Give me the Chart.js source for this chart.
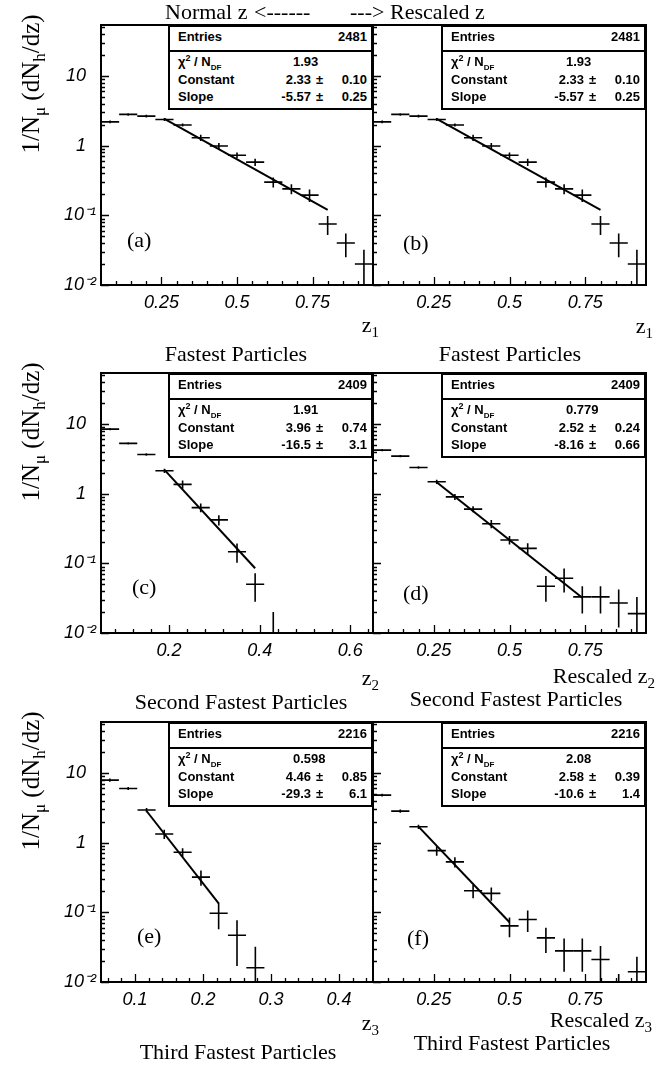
<!DOCTYPE html>
<html lang="en">
<head>
<meta charset="UTF-8">
<title>Normal z / Rescaled z</title>
<script src="https://cdn.jsdelivr.net/npm/chart.js"></script>
<style>
  body { margin: 0; background: #fff; }
  #page { position: relative; width: 663px; height: 1066px; background: #fff; overflow: hidden;
          font-family: "Liberation Serif", "Times New Roman", serif; color: #000; }
  canvas { position: absolute; }
  .txt { position: absolute; font-size: 22px; line-height: 22px; white-space: nowrap; }
  .txt sub { font-size: 15px; vertical-align: -5px; line-height: 0; }
  .ytitle { position: absolute; font-size: 25px; line-height: 25px; white-space: nowrap;
            transform: translate(-50%, -50%) rotate(-90deg); }
  .ytitle sub { font-size: 17px; vertical-align: -6px; line-height: 0; }
  .stats { position: absolute; box-sizing: border-box; width: 205px; height: 85px;
           border: 2px solid #000; background: #fff;
           font-family: "Liberation Sans", Arial, sans-serif; font-weight: bold; font-size: 13px; }
  .stats span { position: absolute; line-height: 16px; white-space: nowrap; }
  .stats .sep { position: absolute; left: 0; right: 0; top: 23px; height: 2px; background: #000; }
  .stats sup { font-size: 9px; line-height: 0; }
  .stats sub { font-size: 8px; line-height: 0; }
</style>
</head>
<body>
<div id="page"></div>

<script>
// bin centres
const zFast   = [0.08, 0.14, 0.20, 0.26, 0.32, 0.38, 0.44, 0.50, 0.56, 0.62, 0.68, 0.74, 0.80, 0.86, 0.92];
const zSecond = [0.07, 0.11, 0.15, 0.19, 0.23, 0.27, 0.31, 0.35, 0.39, 0.43];
const zThird  = [0.063, 0.090, 0.117, 0.143, 0.170, 0.197, 0.223, 0.250, 0.277];
const halfFast = 0.03, halfSecond = 0.02, halfThird = 0.0133;

// 1/N dN/dz values and errors
const valA = [2.20, 2.81, 2.66, 2.38, 1.98, 1.30, 0.99, 0.73, 0.58, 0.30, 0.24, 0.195, 0.075, 0.040, 0.020];
const errA = [0.10, 0.12, 0.12, 0.11, 0.10, 0.13, 0.10, 0.07, 0.07, 0.05, 0.04, 0.04, 0.023, 0.015, 0.012];
const valB = [2.20, 2.81, 2.66, 2.38, 1.98, 1.30, 0.99, 0.73, 0.58, 0.30, 0.24, 0.195, 0.075, 0.040, 0.020];
const errB = [0.10, 0.12, 0.12, 0.11, 0.10, 0.13, 0.10, 0.07, 0.07, 0.05, 0.04, 0.04, 0.023, 0.015, 0.012];
const valC = [8.45, 5.27, 3.66, 2.13, 1.36, 0.63, 0.42, 0.147, 0.050, 0.0095];
const errC = [0.30, 0.20, 0.15, 0.15, 0.18, 0.09, 0.07, 0.045, 0.022, 0.0105];
const valD = [4.22, 3.46, 2.38, 1.48, 0.90, 0.60, 0.37, 0.216, 0.164, 0.047, 0.061, 0.033, 0.033, 0.027, 0.019];
const errD = [0.15, 0.12, 0.10, 0.10, 0.09, 0.06, 0.05, 0.03, 0.03, 0.019, 0.023, 0.014, 0.014, 0.015, 0.014];
const valE = [7.91, 6.00, 2.94, 1.33, 0.73, 0.32, 0.097, 0.047, 0.016];
const errE = [0.40, 0.30, 0.20, 0.20, 0.10, 0.08, 0.04, 0.03, 0.016];
const valF = [4.82, 2.84, 1.69, 0.77, 0.53, 0.204, 0.187, 0.064, 0.079, 0.043, 0.028, 0.028, 0.021, 0.006, 0.014];
const errF = [0.20, 0.15, 0.12, 0.12, 0.09, 0.045, 0.04, 0.02, 0.027, 0.017, 0.014, 0.014, 0.012, 0.007, 0.009];

// fitted exponential, end points of the drawn line
const fitZA = [0.26, 0.80],  fitYA = [2.42, 0.12];
const fitZB = [0.26, 0.80],  fitYB = [2.42, 0.12];
const fitZC = [0.19, 0.39],  fitYC = [2.20, 0.085];
const fitZD = [0.26, 0.74],  fitYD = [1.46, 0.032];
const fitZE = [0.117, 0.223], fitYE = [2.85, 0.135];
const fitZF = [0.20, 0.50],  fitYF = [1.70, 0.072];

// stats boxes
const entries  = ['2481', '2481', '2409', '2409', '2216', '2216'];
const chi2     = ['1.93', '1.93', '1.91', '0.779', '0.598', '2.08'];
const constVal = ['2.33', '2.33', '3.96', '2.52', '4.46', '2.58'];
const constErr = ['0.10', '0.10', '0.74', '0.24', '0.85', '0.39'];
const slopeVal = ['-5.57', '-5.57', '-16.5', '-8.16', '-29.3', '-10.6'];
const slopeErr = ['0.25', '0.25', '3.1', '0.66', '6.1', '1.4'];

// axis labels
const xLabelsFast = [0.25, 0.5, 0.75];
const xLabelsSecond = [0.2, 0.4, 0.6];
const xLabelsThird = [0.1, 0.2, 0.3, 0.4];
const yLabels = { '1': '10\u2007', '0': '1\u2007', '-1': '10\u207B\u00B9', '-2': '10\u207B\u00B2' };
const panelTags = ['(a)', '(b)', '(c)', '(d)', '(e)', '(f)'];
const xTitles = ['z<sub>1</sub>', 'z<sub>1</sub>', 'z<sub>2</sub>', 'Rescaled z<sub>2</sub>', 'z<sub>3</sub>', 'Rescaled z<sub>3</sub>'];
const subTitles = ['Fastest Particles', 'Fastest Particles', 'Second Fastest Particles',
                   'Second Fastest Particles', 'Third Fastest Particles', 'Third Fastest Particles'];

const Y_MIN = 0.01, Y_MAX = 54;

function makeTicks(start, step, end) {
  const out = [];
  for (let v = start; v <= end + 1e-9; v += step) out.push(Math.round(v * 1e4) / 1e4);
  return out;
}
const yTickVals = [];
for (let e = -2; e <= 1; e++) {
  for (let m = 1; m <= 9; m++) {
    const v = +(m * Math.pow(10, e)).toPrecision(6);
    if (v <= Y_MAX) yTickVals.push(v);
  }
}

// layout
const colLeft = [101, 373], colWidth = [272, 273];
const rowTop = [25, 373, 722], PLOT_H = 260;
const AXIS_W = 75, AXIS_H = 40, PAD_T = 10, PAD_R = 4;

const panels = [
  { z: zFast, v: valA, e: errA, half: halfFast, fz: fitZA, fy: fitYA, xr: [0.05, 0.95], xt: makeTicks(0.1, 0.05, 0.9), xl: xLabelsFast },
  { z: zFast, v: valB, e: errB, half: halfFast, fz: fitZB, fy: fitYB, xr: [0.05, 0.95], xt: makeTicks(0.1, 0.05, 0.9), xl: xLabelsFast },
  { z: zSecond, v: valC, e: errC, half: halfSecond, fz: fitZC, fy: fitYC, xr: [0.05, 0.65], xt: makeTicks(0.08, 0.04, 0.64), xl: xLabelsSecond },
  { z: zFast, v: valD, e: errD, half: halfFast, fz: fitZD, fy: fitYD, xr: [0.05, 0.95], xt: makeTicks(0.1, 0.05, 0.9), xl: xLabelsFast },
  { z: zThird, v: valE, e: errE, half: halfThird, fz: fitZE, fy: fitYE, xr: [0.05, 0.45], xt: makeTicks(0.06, 0.02, 0.44), xl: xLabelsThird },
  { z: zFast, v: valF, e: errF, half: halfFast, fz: fitZF, fy: fitYF, xr: [0.05, 0.95], xt: makeTicks(0.1, 0.05, 0.9), xl: xLabelsFast }
];

const isLabel = (list, v) => list.some(l => Math.abs(l - v) < 1e-6);
const isDecade = v => { const l = Math.log10(v); return Math.abs(l - Math.round(l)) < 1e-6; };
const noPad = s => { s.paddingTop = 0; s.paddingBottom = 0; s.paddingLeft = 0; s.paddingRight = 0; };

// error bars, frame and inward ticks
const paw = {
  id: 'paw',
  afterDatasetsDraw(chart) {
    const { ctx, chartArea: a, scales: { x, y } } = chart;
    ctx.save();
    ctx.beginPath();
    ctx.rect(a.left, a.top, a.right - a.left, a.bottom - a.top);
    ctx.clip();
    ctx.strokeStyle = '#000';
    ctx.lineWidth = 1.6;
    chart.data.datasets.forEach(ds => {
      if (!ds.errors) return;
      ds.data.forEach((p, i) => {
        const px = x.getPixelForValue(p.x);
        const py = y.getPixelForValue(p.y);
        const lo = p.y - ds.errors[i];
        const yLo = lo > 0 ? y.getPixelForValue(lo) : a.bottom + 10;
        const yHi = y.getPixelForValue(p.y + ds.errors[i]);
        ctx.beginPath();
        ctx.moveTo(x.getPixelForValue(p.x - ds.halfWidth), py);
        ctx.lineTo(x.getPixelForValue(p.x + ds.halfWidth), py);
        ctx.moveTo(px, yLo);
        ctx.lineTo(px, yHi);
        ctx.stroke();
      });
    });
    ctx.restore();

    ctx.save();
    ctx.strokeStyle = '#000';
    ctx.lineWidth = 1.3;
    ctx.beginPath();
    y.ticks.forEach(t => {
      const py = Math.round(y.getPixelForValue(t.value)) + 0.5;
      ctx.moveTo(a.left, py);
      ctx.lineTo(a.left + (isDecade(t.value) ? 8 : 4), py);
    });
    const labels = chart.options.scales.x.xLabels;
    x.ticks.forEach(t => {
      const px = Math.round(x.getPixelForValue(t.value)) + 0.5;
      ctx.moveTo(px, a.bottom);
      ctx.lineTo(px, a.bottom - (isLabel(labels, t.value) ? 8 : 4));
    });
    ctx.stroke();
    ctx.lineWidth = 2;
    ctx.strokeRect(a.left, a.top, a.right - a.left, a.bottom - a.top);
    ctx.restore();
  }
};

const page = document.getElementById('page');
const tickFont = { family: '"Liberation Sans", Arial, sans-serif', style: 'italic', size: 18 };

panels.forEach((p, i) => {
  const col = i % 2, row = Math.floor(i / 2);
  const cv = document.createElement('canvas');
  const w = colWidth[col] + AXIS_W + PAD_R, h = PLOT_H + PAD_T + AXIS_H;
  cv.width = w; cv.height = h;
  cv.style.left = (colLeft[col] - AXIS_W) + 'px';
  cv.style.top = (rowTop[row] - PAD_T) + 'px';
  cv.style.width = w + 'px'; cv.style.height = h + 'px';
  page.appendChild(cv);

  new Chart(cv.getContext('2d'), {
    type: 'scatter',
    data: {
      datasets: [
        {
          type: 'line',
          data: p.fz.map((zz, k) => ({ x: zz, y: p.fy[k] })),
          borderColor: '#000', borderWidth: 2, pointRadius: 0, fill: false, tension: 0
        },
        {
          data: p.z.map((zz, k) => ({ x: zz, y: p.v[k] })),
          errors: p.e, halfWidth: p.half,
          pointRadius: 0, showLine: false, borderColor: '#000'
        }
      ]
    },
    options: {
      responsive: false,
      animation: false,
      events: [],
      devicePixelRatio: 1,
      layout: { padding: { left: 0, top: PAD_T, right: PAD_R, bottom: 0 } },
      plugins: { legend: { display: false }, tooltip: { enabled: false } },
      scales: {
        x: {
          type: 'linear', min: p.xr[0], max: p.xr[1], xLabels: p.xl,
          afterBuildTicks: s => { s.ticks = p.xt.map(v => ({ value: v })); },
          afterFit: s => { s.height = AXIS_H; noPad(s); },
          grid: { display: false, drawTicks: false },
          border: { display: false },
          ticks: {
            autoSkip: false, maxRotation: 0, minRotation: 0, padding: 7, color: '#000', font: tickFont,
            callback: v => { const l = p.xl.find(q => Math.abs(q - v) < 1e-6); return l === undefined ? '' : String(l); }
          }
        },
        y: {
          type: 'logarithmic', min: Y_MIN, max: Y_MAX,
          afterBuildTicks: s => { s.ticks = yTickVals.map(v => ({ value: v })); },
          afterFit: s => { s.width = AXIS_W; noPad(s); },
          grid: { display: false, drawTicks: false },
          border: { display: false },
          ticks: {
            display: col === 0, autoSkip: false, padding: 5, color: '#000', font: tickFont,
            callback: v => isDecade(v) ? yLabels[String(Math.round(Math.log10(v)))] : ''
          }
        }
      }
    },
    plugins: [paw]
  });
});

// text overlays
function addText(html, cls, style) {
  const d = document.createElement('div');
  d.className = cls;
  d.innerHTML = html;
  Object.assign(d.style, style);
  page.appendChild(d);
  return d;
}

addText('Normal z', 'txt', { left: '165px', top: '1px' });
addText('&lt;------', 'txt', { left: '254px', top: '1px' });
addText('---&gt;', 'txt', { left: '350px', top: '1px' });
addText('Rescaled z', 'txt', { left: '390px', top: '1px' });

rowTop.forEach(t => {
  addText('1/N<sub>\u03BC</sub> (dN<sub>h</sub>/dz)', 'ytitle', { left: '30px', top: (t + 59) + 'px' });
});

const tagPos = [[127, 247], [403, 250], [132, 594], [403, 600], [137, 943], [407, 945]];
const xTitleRight = [379, 653, 379, 655, 379, 652];
const xTitleBase = [332, 333, 685, 683, 1030, 1027];
const subCentre = [236, 510, 241, 516, 238, 512];
const subBase = [361, 361, 709, 706, 1059, 1050];

panels.forEach((p, i) => {
  const col = i % 2, row = Math.floor(i / 2);
  addText(panelTags[i], 'txt', { left: tagPos[i][0] + 'px', top: (tagPos[i][1] - 18) + 'px' });
  addText(xTitles[i], 'txt', { right: (663 - xTitleRight[i]) + 'px', top: (xTitleBase[i] - 18) + 'px' });
  addText(subTitles[i], 'txt', { left: subCentre[i] + 'px', top: (subBase[i] - 18) + 'px', transform: 'translateX(-50%)' });

  const right = colLeft[col] + colWidth[col];
  addText(
    '<span style="left:8px;top:2px">Entries</span>' +
    '<span style="right:4px;top:2px">' + entries[i] + '</span>' +
    '<div class="sep"></div>' +
    '<span style="left:8px;top:27px">\u03C7<sup>2</sup> / N<sub>DF</sub></span>' +
    '<span style="left:123px;top:27px">' + chi2[i] + '</span>' +
    '<span style="left:8px;top:45px">Constant</span>' +
    '<span style="left:61px;width:80px;text-align:right;top:45px">' + constVal[i] + '</span>' +
    '<span style="left:146px;top:45px">\u00B1</span>' +
    '<span style="right:4px;top:45px">' + constErr[i] + '</span>' +
    '<span style="left:8px;top:62px">Slope</span>' +
    '<span style="left:61px;width:80px;text-align:right;top:62px">' + slopeVal[i] + '</span>' +
    '<span style="left:146px;top:62px">\u00B1</span>' +
    '<span style="right:4px;top:62px">' + slopeErr[i] + '</span>',
    'stats', { left: (right - 205) + 'px', top: rowTop[row] + 'px' });
});
</script>
</body>
</html>
